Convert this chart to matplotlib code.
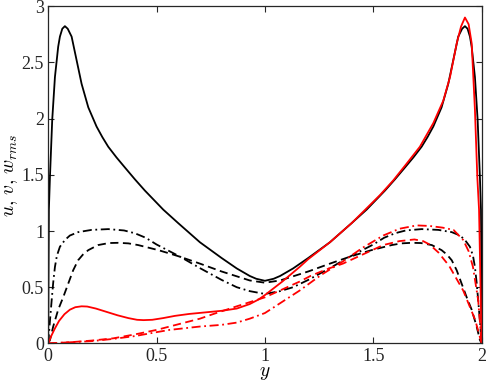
import matplotlib
matplotlib.use('Agg')
import matplotlib.pyplot as plt

# black curves: symmetric, given on half channel then mirrored
yb = [0, 0.003, 0.008, 0.0185, 0.031, 0.046, 0.054, 0.065, 0.077, 0.09, 0.108, 0.131, 0.154, 0.185,
      0.223, 0.25, 0.277, 0.315, 0.354, 0.4, 0.446, 0.531, 0.6, 0.7, 0.8, 0.87, 0.93, 0.96, 1.0]
u_b = [0, 1.19, 1.48, 1.99, 2.37, 2.64, 2.73, 2.80, 2.823, 2.80, 2.73, 2.52, 2.31, 2.10,
       1.93, 1.835, 1.75, 1.655, 1.565, 1.46, 1.36, 1.19, 1.07, 0.90, 0.76, 0.667, 0.60, 0.575, 0.557]

yb2 = [0, 0.008, 0.016, 0.023, 0.031, 0.04, 0.054, 0.077, 0.1, 0.138, 0.2, 0.277, 0.35, 0.4, 0.45,
       0.5, 0.56, 0.61, 0.7, 0.8, 0.87, 0.93, 1.0]
w_b = [0, 0.2, 0.385, 0.54, 0.68, 0.78, 0.86, 0.92, 0.96, 0.99, 1.01, 1.017, 1.005, 0.98, 0.94,
       0.88, 0.82, 0.77, 0.67, 0.565, 0.5, 0.465, 0.44]

yb3 = [0, 0.008, 0.023, 0.046, 0.069, 0.092, 0.115, 0.138, 0.16, 0.185, 0.23, 0.28, 0.323, 0.37,
       0.415, 0.508, 0.56, 0.61, 0.7, 0.8, 0.93, 1.0]
v_b = [0, 0.03, 0.15, 0.30, 0.41, 0.53, 0.65, 0.74, 0.79, 0.83, 0.875, 0.893, 0.895, 0.89,
       0.875, 0.83, 0.80, 0.77, 0.71, 0.64, 0.56, 0.54]

# red curves: full channel
yr_u = [0, 0.015, 0.03, 0.05, 0.075, 0.1, 0.125, 0.154, 0.18, 0.22, 0.27, 0.32, 0.37, 0.41, 0.44, 0.48,
        0.53, 0.585, 0.65, 0.72, 0.8, 0.87, 0.93, 0.97, 1.0, 1.08, 1.16, 1.2, 1.3, 1.4, 1.531, 1.592,
        1.654, 1.715, 1.777, 1.823, 1.854, 1.885, 1.905, 1.923, 1.94, 1.954, 1.969, 1.98, 1.988, 2.0]
u_r = [0, 0.07, 0.13, 0.2, 0.26, 0.30, 0.322, 0.33, 0.328, 0.31, 0.28, 0.25, 0.225, 0.21, 0.207, 0.21,
       0.225, 0.245, 0.262, 0.275, 0.29, 0.31, 0.35, 0.39, 0.43, 0.55, 0.68, 0.75, 0.90, 1.07, 1.32, 1.45,
       1.60, 1.75, 1.96, 2.16, 2.37, 2.67, 2.82, 2.90, 2.84, 2.67, 2.08, 1.48, 1.19, 0]

yr_v = [0, 0.1, 0.2, 0.3, 0.4, 0.5, 0.56, 0.63, 0.7, 0.76, 0.87, 1.0, 1.08, 1.16, 1.21, 1.26, 1.3, 1.36,
        1.45, 1.546, 1.62, 1.69, 1.73, 1.76, 1.8, 1.85, 1.915, 1.97, 2.0]
v_r = [0, 0.01, 0.025, 0.045, 0.08, 0.12, 0.15, 0.185, 0.22, 0.26, 0.33, 0.41, 0.48, 0.55, 0.6, 0.64, 0.67, 0.71,
       0.79, 0.875, 0.91, 0.925, 0.91, 0.88, 0.81, 0.69, 0.47, 0.21, 0]

yr_w = [0, 0.1, 0.2, 0.3, 0.4, 0.5, 0.56, 0.7, 0.8, 0.87, 0.93, 1.0, 1.08, 1.16, 1.26, 1.36, 1.45, 1.546,
        1.62, 1.7, 1.76, 1.82, 1.87, 1.915, 1.94, 1.96, 1.984, 2.0]
w_r = [0, 0.01, 0.02, 0.04, 0.065, 0.1, 0.12, 0.15, 0.165, 0.185, 0.22, 0.27, 0.37, 0.47, 0.61, 0.73, 0.85, 0.96,
       1.02, 1.05, 1.045, 1.03, 1.01, 0.92, 0.82, 0.68, 0.385, 0]


def mirror(y, v):
    return y + [2 - a for a in y[-2::-1]], v + v[-2::-1]


plt.rcParams['font.family'] = ['Liberation Serif']
plt.rcParams['mathtext.fontset'] = 'cm'
plt.rcParams['font.size'] = 13

fig = plt.figure(figsize=(4.87, 3.92), dpi=100)
ax = fig.add_axes([0.099, 0.124, 0.890, 0.860])

lw = 1.3
dash = (0, (4.5, 2.5))
dashdot = (0, (5, 2, 1, 2))
style = dict(linewidth=lw, solid_joinstyle='round', dash_joinstyle='round')
ax.plot(*mirror(yb, u_b), color='k', linestyle='-', **style)
ax.plot(*mirror(yb3, v_b), color='k', linestyle=dash, **style)
ax.plot(*mirror(yb2, w_b), color='k', linestyle=dashdot, **style)
ax.plot(yr_u, u_r, color='r', linestyle='-', **style)
ax.plot(yr_v, v_r, color='r', linestyle=dash, **style)
ax.plot(yr_w, w_r, color='r', linestyle=dashdot, **style)

ax.set_xlim(0, 2)
ax.set_ylim(0, 3)
ax.set_xticks([0, 0.5, 1, 1.5, 2])
ax.set_xticklabels(['0', '0.5', '1', '1.5', '2'])
ax.set_yticks([0, 0.5, 1, 1.5, 2, 2.5, 3])
ax.set_yticklabels(['0', '0.5', '1', '1.5', '2', '2.5', '3'])
ax.tick_params(direction='in', top=True, right=True, length=4, width=0.8, pad=3,
               colors='#262626', labelcolor='#262626')
for s in ax.spines.values():
    s.set_color('#262626')
    s.set_linewidth(0.9)

ax.set_xlabel('$y$', fontsize=14, labelpad=0)
ax.set_ylabel('$u,\\, v,\\, w_{rms}$', fontsize=14, labelpad=1)

fig.savefig('out.png', dpi=100)
